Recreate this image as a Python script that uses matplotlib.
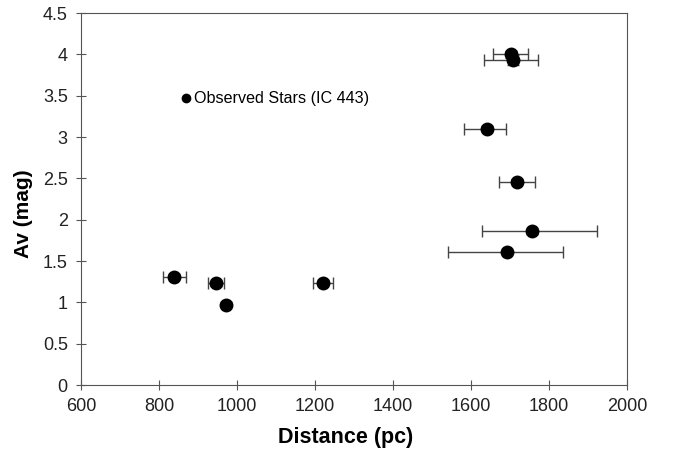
import matplotlib.pyplot as plt
from matplotlib.lines import Line2D

plt.rcParams['font.family'] = ['Liberation Sans', 'DejaVu Sans']

# Datos
distancia = [1703, 1707, 1640, 1717, 1755, 1693, 838, 946, 972, 1220]
av = [4.00, 3.93, 3.10, 2.46, 1.86, 1.61, 1.31, 1.23, 0.97, 1.24]
err_izq = [46, 74, 59, 46, 128, 151, 28, 21, 0, 26]
err_der = [44, 64, 49, 46, 169, 144, 31, 21, 0, 26]
err_av = [0.04, 0.06, 0.03, 0.03, 0.03, 0.03, 0.03, 0.03, 0.03, 0.03]

fig = plt.figure(figsize=(6.75, 4.53), dpi=100)
ax = fig.add_axes([0.12, 0.15, 0.809, 0.821])

ax.errorbar(distancia, av, xerr=[err_izq, err_der], yerr=err_av, fmt='o',
            color='black', ecolor='#444444', elinewidth=1, capsize=4,
            capthick=1, markersize=9)

ax.set_xlim(600, 2000)
ax.set_ylim(0, 4.5)
ax.set_xticks(range(600, 2001, 200))
ax.set_yticks([0, 0.5, 1, 1.5, 2, 2.5, 3, 3.5, 4, 4.5])
ax.set_yticklabels(['0', '0.5', '1', '1.5', '2', '2.5', '3', '3.5', '4', '4.5'])
ax.tick_params(labelsize=13, direction='inout', length=7, color='#555555',
               colors='#222222')
ax.tick_params(axis='x', pad=6)
ax.tick_params(axis='y', pad=6)
for s in ax.spines.values():
    s.set_color('#555555')

ax.set_xlabel('Distance (pc)', fontsize=15.5, fontweight='bold')
ax.set_ylabel('Av (mag)', fontsize=15, fontweight='bold')
ax.xaxis.set_label_coords(0.485, -0.112)
ax.yaxis.set_label_coords(-0.088, 0.462)

handle = Line2D([], [], marker='o', color='black', linestyle='none', markersize=6)
ax.legend([handle], ['Observed Stars (IC 443)'], loc='center left',
          bbox_to_anchor=(0.177, 0.77), frameon=False, fontsize=11.6,
          handletextpad=0.0, handlelength=1.0, borderpad=0, borderaxespad=0)

plt.savefig('out.png', dpi=100)
